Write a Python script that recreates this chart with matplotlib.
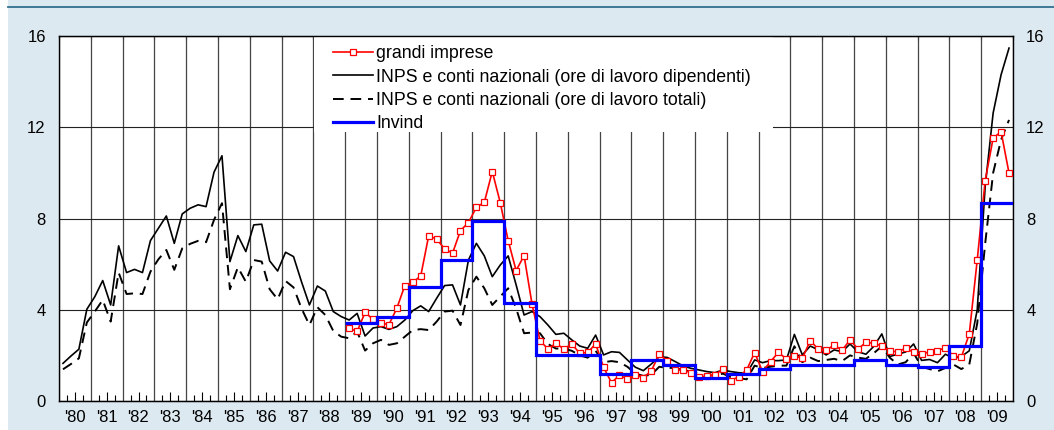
import numpy as np
import matplotlib
matplotlib.use("Agg")
import matplotlib.pyplot as plt
from matplotlib.patches import Rectangle
from matplotlib.lines import Line2D

plt.rcParams['font.family'] = ['Liberation Sans', 'DejaVu Sans']

# quarterly series, 1980Q1 - 2009Q4
first_year = 1980
last_year = 2009

inps_dip = [
    1.65, 1.97, 2.27, 4.02,
    4.57, 5.28, 4.21, 6.80,
    5.63, 5.77, 5.63, 7.03,
    7.57, 8.11, 6.91, 8.20,
    8.45, 8.60, 8.52, 10.03,
    10.75, 6.11, 7.25, 6.55,
    7.72, 7.75, 6.14, 5.70,
    6.52, 6.33, 5.23, 4.21,
    5.04, 4.82, 3.92, 3.70,
    3.55, 3.84, 2.85, 3.20,
    3.26, 3.14, 3.26, 3.55,
    3.96, 4.17, 3.92, 4.50,
    5.06, 5.09, 4.21, 6.18,
    6.91, 6.36, 5.45, 5.96,
    6.36, 5.09, 3.77, 3.92,
    3.70, 3.33, 2.92, 2.97,
    2.68, 2.41, 2.31, 2.89,
    2.02, 2.16, 2.13, 1.80,
    1.48, 1.33, 1.62, 1.94,
    1.91, 1.73, 1.54, 1.43,
    1.36, 1.29, 1.24, 1.36,
    1.29, 1.24, 1.21, 1.80,
    1.68, 1.77, 1.77, 1.80,
    2.92, 2.02, 2.41, 2.24,
    2.02, 2.24, 2.16, 2.50,
    2.16, 2.05, 2.40, 2.94,
    1.95, 2.05, 2.15, 2.50,
    1.78, 1.82, 1.68, 2.05,
    1.87, 1.95, 2.20, 4.00,
    9.40, 12.62, 14.30, 15.47,
]

inps_tot = [
    1.39, 1.62, 1.87, 3.44,
    3.92, 4.43, 3.48, 5.63,
    4.69, 4.72, 4.69, 5.67,
    6.21, 6.62, 5.75, 6.69,
    6.89, 7.02, 6.96, 7.94,
    8.67, 4.90, 5.86, 5.23,
    6.18, 6.11, 4.90, 4.46,
    5.26, 4.98, 4.06, 3.33,
    4.11, 3.77, 3.07, 2.82,
    2.75, 3.04, 2.21, 2.53,
    2.68, 2.46, 2.53, 2.82,
    3.11, 3.15, 3.11, 3.48,
    3.92, 3.96, 3.33, 4.87,
    5.45, 4.94, 4.21, 4.58,
    4.94, 4.06, 2.97, 3.00,
    2.97, 2.50, 2.30, 2.30,
    2.20, 2.00, 1.90, 2.20,
    1.70, 1.75, 1.70, 1.50,
    1.20, 1.10, 1.15, 1.50,
    1.45, 1.45, 1.35, 1.30,
    1.20, 1.15, 1.10, 1.20,
    1.05, 1.00, 0.95, 1.55,
    1.45, 1.50, 1.55, 1.55,
    2.40, 1.70, 1.90, 1.75,
    1.80, 1.85, 1.75, 2.00,
    1.90, 1.85, 2.10, 2.40,
    1.90, 1.60, 1.70, 2.10,
    1.50, 1.40, 1.30, 1.45,
    1.60, 1.40, 1.60, 3.40,
    6.90, 10.00, 11.45, 12.32,
]

# grandi imprese, 1989Q1 - 2009Q4
gi_start = 1989
grandi_imprese = [
    3.19, 3.05, 3.88, 3.58,
    3.42, 3.35, 4.07, 5.06,
    5.20, 5.48, 7.24, 7.10,
    6.67, 6.48, 7.47, 7.82,
    8.49, 8.71, 10.06, 8.70,
    7.03, 5.72, 6.37, 4.25,
    2.65, 2.28, 2.53, 2.28,
    2.50, 2.09, 2.13, 2.50,
    1.48, 0.80, 1.14, 0.95,
    1.14, 1.02, 1.32, 2.05,
    1.77, 1.36, 1.36, 1.24,
    1.04, 1.10, 1.14, 1.40,
    0.89, 1.07, 1.36, 2.12,
    1.29, 1.73, 2.13, 1.84,
    1.99, 1.87, 2.65, 2.27,
    2.22, 2.46, 2.22, 2.68,
    2.28, 2.57, 2.53, 2.41,
    2.19, 2.16, 2.31, 2.14,
    2.05, 2.16, 2.20, 2.34,
    1.97, 1.92, 2.94, 6.18,
    9.66, 11.52, 11.81, 9.99,
]

# Invind, annual 1989 - 2009
invind_years = list(range(1989, 2010))
invind = [3.4, 3.7, 5.0, 6.2, 7.9, 4.3, 2.0, 2.0, 1.2, 1.8, 1.6,
          1.0, 1.2, 1.4, 1.6, 1.6, 1.8, 1.6, 1.5, 2.4, 8.7]

labels = ['grandi imprese',
          'INPS e conti nazionali (ore di lavoro dipendenti)',
          'INPS e conti nazionali (ore di lavoro totali)',
          'Invind']


def quarters(start, n):
    return start + (np.arange(n) + 0.5) / 4


fig = plt.figure(figsize=(10.54, 4.30), dpi=100)
fig.patch.set_facecolor('white')
fig.add_artist(Rectangle((8 / 1054, 0), 1 - 8 / 1054, 1, transform=fig.transFigure,
                         facecolor='#dde9f1', edgecolor='none', zorder=-10))
fig.add_artist(Line2D([8 / 1054, 1], [1 - 7 / 430] * 2, transform=fig.transFigure,
                      color='#336f8e', lw=1.3))

ax = fig.add_axes([59 / 1054, 29 / 430, 954 / 1054, 365 / 430])
ax.set_facecolor('white')

x_all = quarters(first_year, len(inps_dip))
x_gi = quarters(gi_start, len(grandi_imprese))

h2, = ax.plot(x_all, inps_dip, color='black', lw=1.2, zorder=3)
h3, = ax.plot(x_all, inps_tot, color='black', lw=1.4, dashes=(5.5, 3.5), zorder=3)
h1, = ax.plot(x_gi, grandi_imprese, color='#ff0000', lw=1.2, marker='s', ms=4.5,
              mfc='white', mec='#ff0000', mew=0.9, zorder=4)
edges = invind_years + [invind_years[-1] + 1]
h4 = ax.stairs(invind, edges, baseline=None, color='#0000ff', lw=2.3, zorder=5)

ax.set_xlim(first_year, last_year + 1)
ax.set_ylim(0, 16)

years = np.arange(first_year, last_year + 2)
ax.set_xticks(years)
ax.set_xticklabels([])
ax.tick_params(axis='x', which='major', direction='in', length=0)
mid = np.arange(first_year, last_year + 1) + 0.5
ax.set_xticks(mid, minor=True)
ax.set_xticklabels(["'%02d" % (y % 100) for y in range(first_year, last_year + 1)],
                   minor=True, fontsize=12)
ax.tick_params(axis='x', which='minor', direction='in', length=6.5, width=0.8,
               pad=6.5, top=False)

sec = ax.secondary_xaxis('bottom')
qt = np.concatenate([years[:-1] + 0.25, years[:-1] + 0.75])
sec.set_xticks(np.sort(qt))
sec.set_xticklabels([])
sec.tick_params(direction='in', length=4, width=0.8)

top = ax.secondary_xaxis('top')
top.set_xticks(years)
top.set_xticklabels([])
top.tick_params(direction='in', length=3, width=0.8)

ax.set_yticks([0, 4, 8, 12, 16])
ax.tick_params(axis='y', length=0, labelsize=12, pad=9.5, labelright=True, right=True)

ax.grid(True, axis='x', which='major', color='#444444', lw=0.9)
ax.grid(True, axis='y', color='#222222', lw=0.8)
ax.set_axisbelow(True)

for s in ax.spines.values():
    s.set_linewidth(1.0)

# white area behind legend
ax.add_patch(Rectangle(((314 - 59) / 954, (401 - 132) / 365), (773 - 314) / 954,
                       (132 - 36) / 365, transform=ax.transAxes,
                       facecolor='white', edgecolor='none', zorder=1))

leg = ax.legend([h1, h2, h3, h4], labels, loc='upper left',
                bbox_to_anchor=((324 - 59) / 954, 1.0), borderaxespad=0,
                borderpad=0.52, frameon=False, fontsize=12.8, handlelength=2.25,
                handletextpad=0.17, labelspacing=0.36)
leg.set_zorder(6)

fig.savefig('out.png', dpi=100)
